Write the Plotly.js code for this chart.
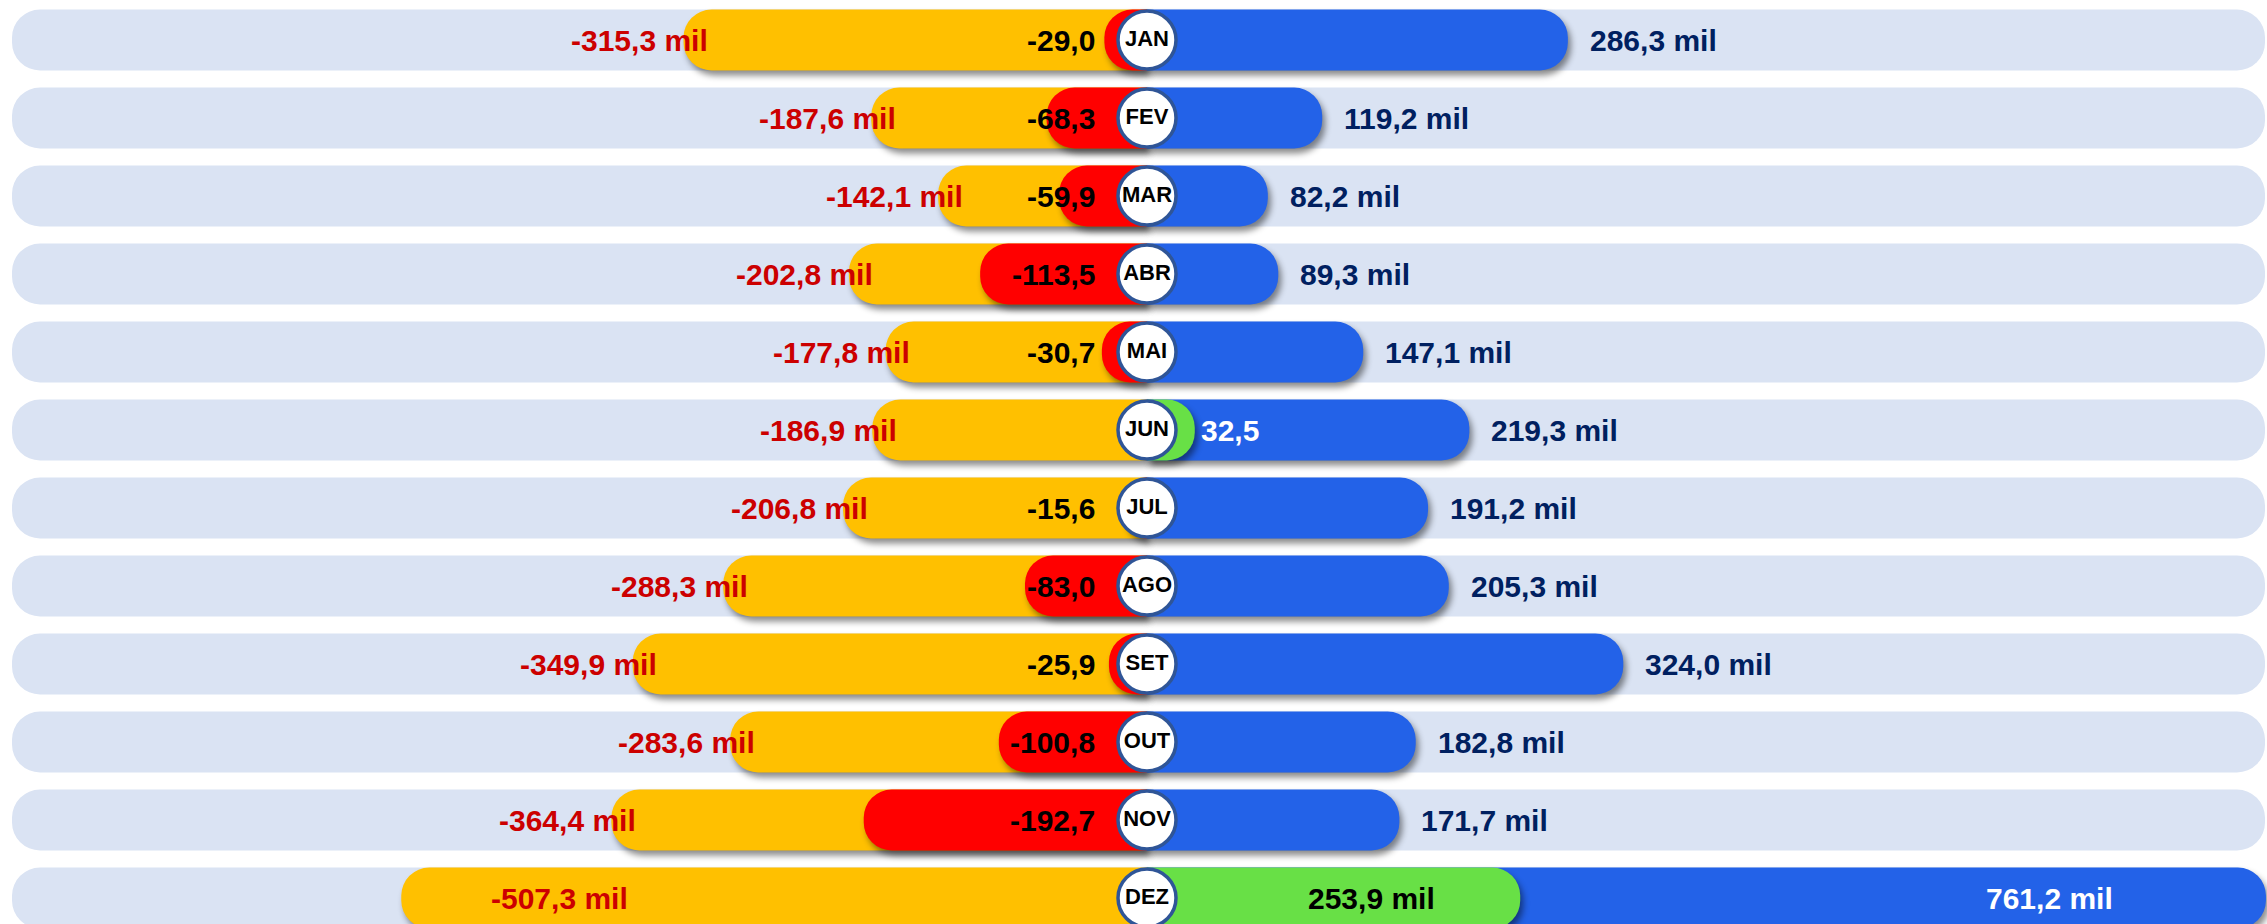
<!DOCTYPE html>
<html>
<head>
<meta charset="utf-8">
<script src="https://cdn.plot.ly/plotly-3.0.1.min.js"></script>
<style>
  html, body { margin: 0; padding: 0; background: #ffffff; }
  #chart { width: 2267px; height: 924px; }
</style>
</head>
<body>
<div id="chart"></div>
<script>
// ---- data ----
const months = ['JAN','FEV','MAR','ABR','MAI','JUN','JUL','AGO','SET','OUT','NOV','DEZ'];
const negativos = [-315.3,-187.6,-142.1,-202.8,-177.8,-186.9,-206.8,-288.3,-349.9,-283.6,-364.4,-507.3];
const positivos = [286.3,119.2,82.2,89.3,147.1,219.3,191.2,205.3,324.0,182.8,171.7,761.2];
const saldo = [-29.0,-68.3,-59.9,-113.5,-30.7,32.5,-15.6,-83.0,-25.9,-100.8,-192.7,253.9];

// ---- styling / layout constants ----
const W = 2267, H = 924;
const PX_PER_UNIT = 1.47;
const ZERO_PX = 1147;
const X_RANGE = [-ZERO_PX / PX_PER_UNIT, (W - ZERO_PX) / PX_PER_UNIT];
const Y_RANGE = [11.333, -0.513];
const BAR_W = 0.78;
const RADIUS = 28;
const FONT = '"Liberation Sans", Arial, sans-serif';
const C_BG = '#DAE3F3', C_ORANGE = '#FFC000', C_BLUE = '#2362E8', C_RED = '#FF0000', C_GREEN = '#68E046';

function fmt(v, suffix) {
  return v.toFixed(1).replace('.', ',') + (suffix ? ' mil' : '');
}

const bgLeft = months.map(() => X_RANGE[0] + 12 / PX_PER_UNIT);
const bgRight = months.map(() => X_RANGE[1] - 2 / PX_PER_UNIT);
const red = saldo.map(v => v < 0 ? v : null);
const green = saldo.map(v => v > 0 ? v : null);
const zeros = months.map(() => 0);

function barTrace(x, color, yax) {
  return {
    type: 'bar', orientation: 'h', y: months, x: x, width: BAR_W,
    xaxis: 'x', yaxis: yax,
    marker: { color: color, cornerradius: RADIUS, line: { width: 0 } },
    hoverinfo: 'skip', showlegend: false
  };
}

const traces = [
  barTrace(bgLeft, C_BG, 'y'),
  barTrace(bgRight, C_BG, 'y2'),
  barTrace(negativos, C_ORANGE, 'y3'),
  barTrace(positivos, C_BLUE, 'y4'),
  barTrace(red, C_RED, 'y5'),
  barTrace(green, C_GREEN, 'y6'),
  {
    type: 'scatter', mode: 'markers+text', y: months, x: zeros,
    xaxis: 'x', yaxis: 'y7',
    text: months, textposition: 'middle center',
    textfont: { family: FONT, size: 22, color: '#000000', weight: 'bold' },
    marker: { symbol: 'circle', size: 58, color: '#ffffff', line: { color: '#2F5597', width: 3.5 } },
    hoverinfo: 'skip', showlegend: false, cliponaxis: false
  }
];

const annotations = [];
const baseFont = (color) => ({ family: FONT, size: 30, color: color, weight: 'bold' });
const ORANGE_LABEL_MIN = -370;
const BLUE_LABEL_MAX = 556;
months.forEach((m, i) => {
  const nv = negativos[i];
  annotations.push({
    x: Math.max(nv, ORANGE_LABEL_MIN), y: m, xref: 'x', yref: 'y',
    text: '<b>' + fmt(nv, true) + '</b>', showarrow: false,
    xanchor: 'center', xshift: -44, font: baseFont('#CC0000')
  });
  const pv = positivos[i];
  const inside = pv > BLUE_LABEL_MAX;
  annotations.push({
    x: inside ? BLUE_LABEL_MAX : pv, y: m, xref: 'x', yref: 'y',
    text: '<b>' + fmt(pv, true) + '</b>', showarrow: false,
    xanchor: 'left', xshift: 20, font: baseFont(inside ? '#ffffff' : '#002060')
  });
  const sv = saldo[i];
  if (sv < 0) {
    annotations.push({
      x: 0, y: m, xref: 'x', yref: 'y',
      text: '<b>' + fmt(sv, false) + '</b>', showarrow: false,
      xanchor: 'right', xshift: -50, font: baseFont('#000000')
    });
  } else {
    const fits = sv * PX_PER_UNIT > 200;
    annotations.push({
      x: sv, y: m, xref: 'x', yref: 'y',
      text: '<b>' + fmt(sv, sv >= 100) + '</b>', showarrow: false,
      xanchor: fits ? 'right' : 'left', xshift: fits ? -83 : 4,
      font: baseFont(fits ? '#000000' : '#ffffff')
    });
  }
});

const hiddenY = (overlay) => {
  const ax = { type: 'category', categoryorder: 'array', categoryarray: months,
    range: Y_RANGE, autorange: false, showgrid: false, zeroline: false,
    showticklabels: false, ticks: '', showline: false, fixedrange: true };
  if (overlay) { ax.overlaying = 'y'; ax.matches = undefined; }
  return ax;
};

const layout = {
  width: W, height: H,
  margin: { l: 0, r: 0, t: 0, b: 0, pad: 0 },
  paper_bgcolor: '#ffffff', plot_bgcolor: '#ffffff',
  barmode: 'overlay',
  showlegend: false,
  font: { family: FONT },
  xaxis: { range: X_RANGE, autorange: false, showgrid: false, zeroline: false, showticklabels: false, ticks: '', showline: false, fixedrange: true },
  yaxis: hiddenY(false),
  yaxis2: hiddenY(true),
  yaxis3: hiddenY(true),
  yaxis4: hiddenY(true),
  yaxis5: hiddenY(true),
  yaxis6: hiddenY(true),
  yaxis7: hiddenY(true),
  annotations: annotations
};

Plotly.newPlot('chart', traces, layout, { staticPlot: true, displayModeBar: false }).then(gd => {
  const groups = gd.querySelectorAll('.barlayer .trace');
  groups.forEach((g, i) => {
    if (i >= 2) {
      g.querySelectorAll('path').forEach(p => {
        p.style.filter = 'drop-shadow(3px 5px 3px rgba(0,0,0,0.45))';
      });
    }
  });
});
</script>
</body>
</html>
